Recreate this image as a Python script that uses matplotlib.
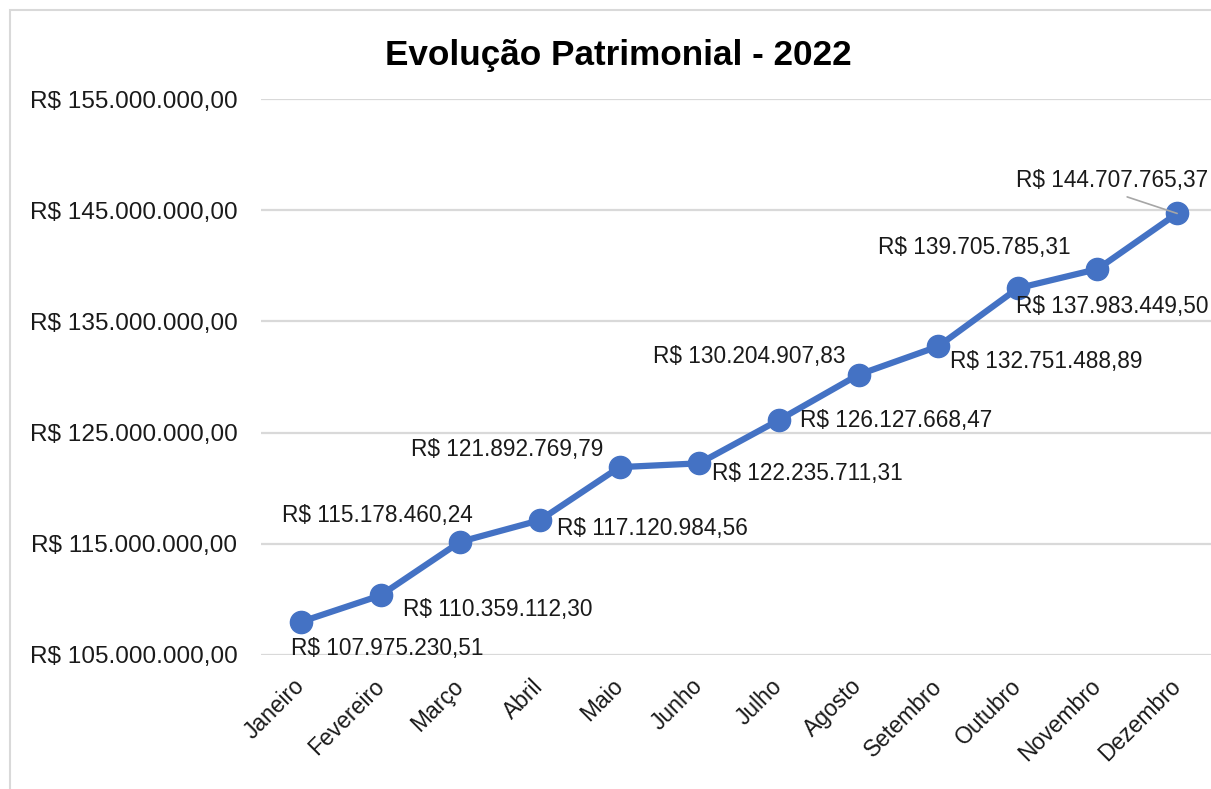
import matplotlib
matplotlib.use("Agg")
import matplotlib.pyplot as plt
from matplotlib.patches import Rectangle

plt.rcParams['font.family'] = ['Liberation Sans', 'DejaVu Sans']

# dados
meses = ['Janeiro', 'Fevereiro', 'Março', 'Abril', 'Maio', 'Junho',
         'Julho', 'Agosto', 'Setembro', 'Outubro', 'Novembro', 'Dezembro']
patrimonio = [107975230.51, 110359112.30, 115178460.24, 117120984.56,
              121892769.79, 122235711.31, 126127668.47, 130204907.83,
              132751488.89, 137983449.50, 139705785.31, 144707765.37]
y_ticks = [105e6, 115e6, 125e6, 135e6, 145e6, 155e6]


def brl(v):
    s = f"{v:,.2f}".replace(",", "X").replace(".", ",").replace("X", ".")
    return "R$ " + s


# deslocamento do centro dos rótulos (px: direita, baixo)
offsets = [(86, 27), (117, 14), (-83, -26), (113, 8), (-112, -18), (108, 10),
           (117, 0), (-109, -18), (108, 15), (94, 18), (-123, -22), (-65, -33)]

W, H = 1211, 789
fig = plt.figure(figsize=(W / 100, H / 100), dpi=100)

# moldura do gráfico
fig.patches.append(Rectangle((10 / W, -0.1), 1.2, 1 - 10 / H + 0.1,
                             transform=fig.transFigure, fill=False,
                             edgecolor='#d9d9d9', linewidth=1.5))

ax = fig.add_axes([261 / W, 1 - 655 / H, (1217 - 261) / W, (655 - 99) / H])
x = list(range(len(meses)))
ax.plot(x, patrimonio, color='#4472C4', linewidth=4.5, marker='o',
        markersize=16, solid_capstyle='round', zorder=3)

ax.set_xlim(-0.5, len(meses) - 0.5)
ax.set_ylim(105e6, 155e6)
ax.set_yticks(y_ticks)
ax.set_yticklabels([brl(v) for v in y_ticks])
ax.set_xticks(x)
ax.set_xticklabels(meses, rotation=45, ha='right', va='center',
                   rotation_mode='anchor')
ax.tick_params(axis='both', length=0, colors='#1a1a1a')
ax.tick_params(axis='y', pad=17, labelsize=17.6)
ax.tick_params(axis='x', pad=20, labelsize=16.5)
ax.grid(axis='y', color='#d9d9d9', linewidth=1.6)
ax.set_axisbelow(True)
for s in ax.spines.values():
    s.set_visible(False)

for i, v in enumerate(patrimonio):
    dx, dy = offsets[i]
    kw = {}
    if i == len(patrimonio) - 1:
        kw['arrowprops'] = dict(arrowstyle='-', color='#a6a6a6', lw=1.2,
                                relpos=(0.5, 0), shrinkA=5, shrinkB=0)
    ax.annotate(brl(v), (i, v), xytext=(dx * 0.72, -dy * 0.72),
                textcoords='offset points', ha='center', va='center',
                fontsize=16.3, color='#1a1a1a', zorder=4,
                annotation_clip=False, **kw)

fig.text(618 / W, 1 - 55 / H, 'Evolução Patrimonial - 2022', ha='center',
         va='center', fontsize=25.3, fontweight='bold', color='black')

fig.savefig('out.png', dpi=100)
